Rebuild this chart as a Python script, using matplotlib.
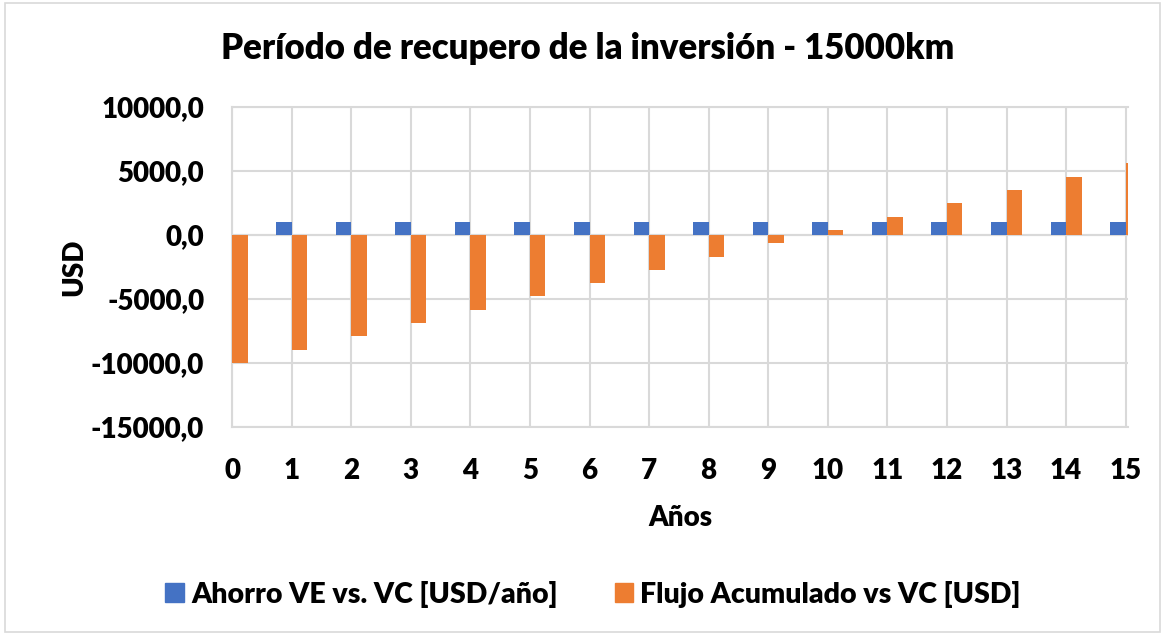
import matplotlib.pyplot as plt
from matplotlib.patches import Rectangle, Patch
from matplotlib.ticker import FuncFormatter

plt.rcParams['font.family'] = ['Lato', 'DejaVu Sans']
plt.rcParams['font.weight'] = 'heavy'

# data
years = list(range(16))
ahorro = [0, 1040, 1040, 1040, 1040, 1040, 1040, 1040, 1040, 1040, 1040, 1040, 1040, 1040, 1040, 1040]
flujo = [-10000, -8960, -7920, -6880, -5840, -4800, -3760, -2720, -1680, -640,
         400, 1440, 2480, 3520, 4560, 5600]
y_ticks = [-15000, -10000, -5000, 0, 5000, 10000]

titulo = 'Período de recupero de la inversión - 15000km'
lab_ahorro = 'Ahorro VE vs. VC [USD/año]'
lab_flujo = 'Flujo Acumulado vs VC [USD]'

c_blue = '#4472C4'
c_orange = '#ED7D31'
c_grid = '#D9D9D9'
fw = 'heavy'

fig = plt.figure(figsize=(11.63, 6.34), dpi=100)
fig.patches.append(Rectangle((0.004, 0.003), 0.993, 0.992, transform=fig.transFigure,
                             fill=False, edgecolor=c_grid, linewidth=1.2))

ax = fig.add_axes([0.1995, 0.3265, 0.7705, 0.5047])
bw = 0.26
ax.bar(years, ahorro, width=-bw, align='edge', color=c_blue, zorder=3)
ax.bar(years, flujo, width=bw, align='edge', color=c_orange, zorder=3)

# a small margin on the right so the last orange bar shows as a sliver, like the original
ax.set_xlim(0, 15.04)
ax.set_ylim(-15000, 10000)
ax.set_xticks(years)
ax.set_yticks(y_ticks)
ax.yaxis.set_major_formatter(FuncFormatter(lambda v, p: f'{v:.1f}'.replace('.', ',')))
ax.grid(True, color=c_grid, linewidth=1.5, zorder=0)
ax.axhline(0, color=c_grid, linewidth=1.5, zorder=1)
for s in ax.spines.values():
    s.set_color(c_grid)
    s.set_linewidth(1.5)
ax.spines['right'].set_visible(False)
ax.tick_params(length=0, labelsize=20)
ax.tick_params(axis='x', pad=22)
ax.tick_params(axis='y', pad=20)
for t in ax.get_xticklabels() + ax.get_yticklabels():
    t.set_fontweight(fw)

ax.set_xlabel('Años', fontsize=20, fontweight=fw)
ax.xaxis.set_label_coords(0.5, -0.245)
ax.set_ylabel('USD', fontsize=20, fontweight=fw)
ax.yaxis.set_label_coords(-0.161, 0.5)

fig.text(0.505, 0.924, titulo, ha='center', va='center', fontsize=25, fontweight=fw)

handles = [Patch(color=c_blue, label=lab_ahorro), Patch(color=c_orange, label=lab_flujo)]
fig.legend(handles=handles, loc='center', bbox_to_anchor=(0.51, 0.063), ncol=2,
           frameon=False, prop={'size': 20.5, 'weight': fw}, handlelength=0.65,
           handleheight=0.65, handletextpad=0.25, columnspacing=2.0)

fig.savefig('out.png', dpi=100, facecolor='white')
